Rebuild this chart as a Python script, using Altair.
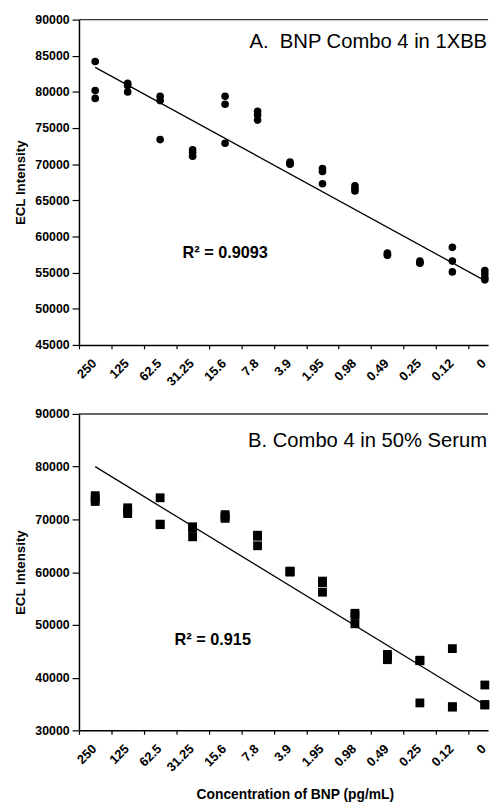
import altair as alt
import pandas as pd

# Category labels (x axis, concentration of BNP, pg/mL)
conc_labels = ["250", "125", "62.5", "31.25", "15.6", "7.8", "3.9",
               "1.95", "0.98", "0.49", "0.25", "0.12", "0"]

# Panel A: BNP Combo 4 in 1XBB (replicate ECL intensities per concentration)
a_values = [
    [84200, 80200, 79100],
    [81200, 80900, 80000],
    [79400, 78800, 73400],
    [72000, 71600, 71100],
    [79400, 78300, 72900],
    [77300, 76800, 76100],
    [70300, 70100, 70000],
    [69400, 69000, 67300],
    [67000, 66600, 66300],
    [57700, 57500, 57400],
    [56600, 56400, 56300],
    [58500, 56600, 55100],
    [55300, 54800, 54300, 54000],
]
a_trend = [83400, 53900]   # linear trendline at first / last category
a_r2 = "R² = 0.9093"
a_title = "A.\u00a0\u00a0BNP Combo 4 in 1XBB"

# Panel B: Combo 4 in 50% Serum
b_values = [
    [74500, 73900, 73400],
    [72200, 71600, 71100],
    [74100, 69100, 69000],
    [68600, 68300, 66700],
    [70900, 70500, 70200],
    [67000, 66800, 65000],
    [60200, 60100, 60000],
    [58300, 58000, 56200],
    [52200, 51800, 50200],
    [44400, 43900, 43400],
    [43300, 43200, 35200],
    [45500, 34500, 34400],
    [38600, 34900, 34800],
]
b_trend = [80000, 34800]
b_r2 = "R² = 0.915"
b_title = "B. Combo 4 in 50% Serum"

FONT = "Liberation Sans"
W = 415
LABEL_EXPR = "[" + ",".join("'" + s + "'" for s in conc_labels) + "][datum.value]"


def points_df(values):
    rows = []
    for i, reps in enumerate(values):
        for v in reps:
            rows.append({"pos": i + 0.5, "value": v, "conc": conc_labels[i]})
    return pd.DataFrame(rows)


def panel(values, trend, ydom, ystep, height, shape, size, title, r2,
          title_y, r2_x, r2_y, xtitle):
    xscale = alt.Scale(domain=[0, 12.6], nice=False, zero=False)
    yscale = alt.Scale(domain=ydom, nice=False, zero=False)
    xaxis = alt.Axis(values=list(range(13)), labelExpr=LABEL_EXPR,
                     labelAngle=-45, labelAlign="right", labelBaseline="top",
                     labelOffset=11, labelPadding=8, tickSize=4,
                     labelOverlap=False, labelBound=False, labelFontSize=13,
                     title=xtitle if xtitle else None, titlePadding=14,
                     titleFontSize=14, titleX=219, titleAlign="center")
    yaxis = alt.Axis(values=list(range(ydom[0], ydom[1] + 1, ystep)),
                     format="d", tickSize=7, labelPadding=3,
                     labelOverlap=False, labelBound=False,
                     title="ECL Intensity", titlePadding=8, titleFontSize=13.5)

    pts = alt.Chart(points_df(values)).mark_point(
        shape=shape, filled=True, size=size, color="black", opacity=1
    ).encode(
        x=alt.X("pos:Q", scale=xscale, axis=xaxis),
        y=alt.Y("value:Q", scale=yscale, axis=yaxis),
    )
    line_df = pd.DataFrame({"pos": [0.5, 12.5], "value": trend})
    line = alt.Chart(line_df).mark_line(color="black", strokeWidth=1.3).encode(
        x=alt.X("pos:Q", scale=xscale, axis=xaxis),
        y=alt.Y("value:Q", scale=yscale, axis=yaxis),
    )
    ttl = alt.Chart(pd.DataFrame({"t": [title]})).mark_text(
        align="right", baseline="alphabetic", font=FONT, fontSize=20.5,
        color="black"
    ).encode(text="t:N", x=alt.value(W - 1), y=alt.value(title_y))
    r2t = alt.Chart(pd.DataFrame({"t": [r2]})).mark_text(
        align="left", baseline="alphabetic", font=FONT, fontSize=16.5,
        fontWeight="bold", color="black"
    ).encode(text="t:N", x=alt.value(r2_x), y=alt.value(r2_y))
    top = alt.Chart(pd.DataFrame({"t": [0]})).mark_rule(
        color="#333333", strokeWidth=1.5
    ).encode(x=alt.value(0), x2=alt.value(W), y=alt.value(0))
    return alt.layer(top, line, pts, ttl, r2t).properties(width=W, height=height)


pa = panel(a_values, a_trend, [45000, 90000], 5000, 330, "circle", 60,
           a_title, a_r2, 29, 105, 242, None)
pb = panel(b_values, b_trend, [30000, 90000], 10000, 321, "square", 80,
           b_title, b_r2, 34, 97, 234, "Concentration of BNP (pg/mL)")

chart = alt.vconcat(pa, pb, spacing=19).properties(
    padding={"left": 5, "top": 0, "right": 3, "bottom": 2}
).configure_view(stroke=None).configure_axis(
    grid=False, domainColor="black", domainWidth=1.5, tickColor="black",
    tickWidth=1.2, labelColor="black", titleColor="black", labelFont=FONT,
    titleFont=FONT, labelFontWeight="bold", titleFontWeight="bold",
    labelFontSize=12.5, labelOverlap=False
)

chart.save("out.html", embed_options={"renderer": "svg", "actions": False})
